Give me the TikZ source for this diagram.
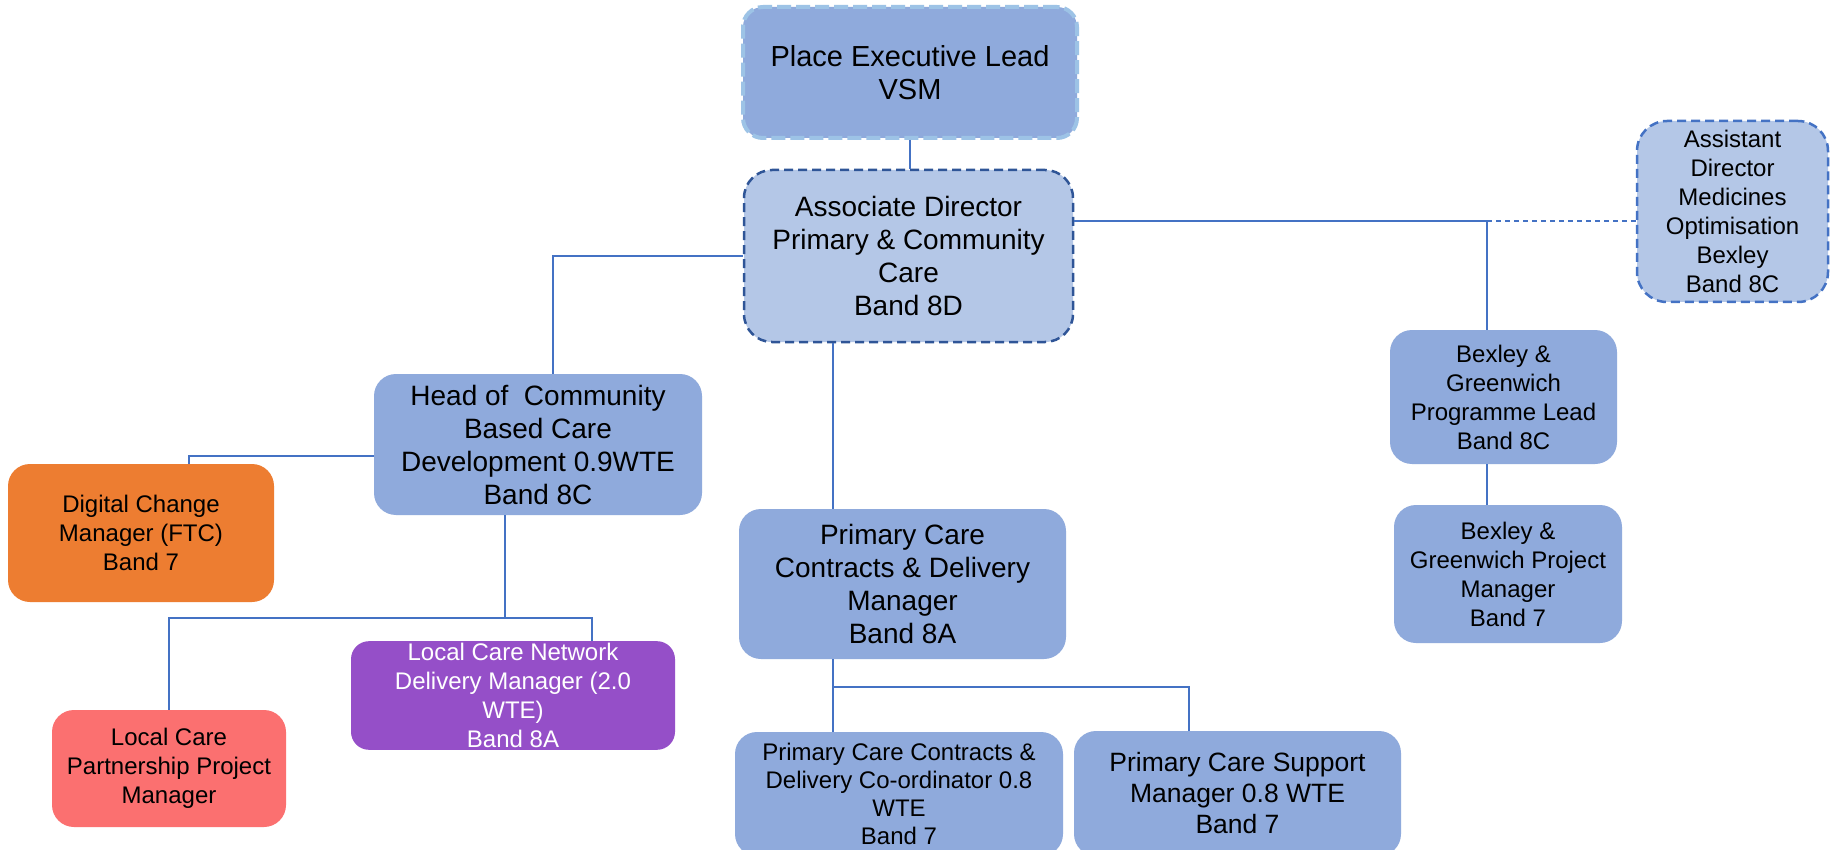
\documentclass[tikz,border=0pt]{standalone}
\usepackage{fontspec}
\setmainfont{Liberation Sans}
\definecolor{boxblue}{HTML}{8FAADC}
\definecolor{lightfill}{HTML}{B4C7E7}
\definecolor{execborder}{HTML}{9DC3E6}
\definecolor{assocborder}{HTML}{2F5597}
\definecolor{assistborder}{HTML}{4472C4}
\definecolor{linecol}{HTML}{4472C4}
\definecolor{orangebox}{HTML}{ED7D31}
\definecolor{pinkbox}{HTML}{FB7070}
\definecolor{purplebox}{HTML}{954FC8}
\newcommand\szXL{\fontsize{29}{33.5}\selectfont}
\newcommand\szL{\fontsize{28}{33}\selectfont}
\newcommand\szM{\fontsize{26.5}{31}\selectfont}
\newcommand\szS{\fontsize{24}{29}\selectfont}
\newcommand\szT{\fontsize{24}{28}\selectfont}
\begin{document}
\begin{tikzpicture}[x=1pt,y=-1pt,
  box/.style={rectangle, rounded corners=22pt, fill=boxblue, align=center, inner sep=2pt, text=black},
  conn/.style={draw=linecol, line width=1.3pt}]
\clip (0,0) rectangle (1831,850);
\fill[white] (0,0) rectangle (1831,850);
% nodes
\node[box, minimum width=334pt, minimum height=131pt, rounded corners=20pt, draw=execborder, line width=4pt, dash pattern=on 14pt off 5pt, font=\szXL] (exec) at (910,72.5) {Place Executive Lead\\VSM};
\node[box, fill=lightfill, minimum width=329pt, minimum height=172pt, rounded corners=28pt, draw=assocborder, line width=2.5pt, dash pattern=on 9pt off 5pt, font=\szL] (assoc) at (908.5,256) {Associate Director\\Primary \& Community\\Care\\Band 8D};
\node[box, fill=lightfill, minimum width=191pt, minimum height=181pt, rounded corners=30pt, draw=assistborder, line width=2.5pt, dash pattern=on 9pt off 5pt, font=\szS] (assist) at (1732.5,211.5) {Assistant\\Director\\Medicines\\Optimisation\\Bexley\\Band 8C};
\node[box, minimum width=227pt, minimum height=134pt, font=\szS] (bgpl) at (1503.5,397) {Bexley \&\\Greenwich\\Programme Lead\\Band 8C};
\node[box, minimum width=228pt, minimum height=138pt, font=\szS] (bgpm) at (1508,574) {Bexley \&\\Greenwich Project\\Manager\\Band 7};
\node[box, minimum width=328pt, minimum height=141pt, font=\szL] (head) at (538,444.5) {Head of~ Community\\Based Care\\Development 0.9WTE\\Band 8C};
\node[box, fill=orangebox, minimum width=266pt, minimum height=138pt, font=\szS] (digital) at (141,533) {Digital Change\\Manager (FTC)\\Band 7};
\node[box, fill=pinkbox, minimum width=234pt, minimum height=117pt, font=\szS] (lcpp) at (169,768.5) {Local Care\\Partnership Project\\Manager};
\node[box, fill=purplebox, text=white, minimum width=324pt, minimum height=105pt, rounded corners=18pt, font=\szS] (lcn) at (513,695.5) {Local Care Network\\Delivery Manager (2.0\\WTE)\\Band 8A};
\node[box, minimum width=327pt, minimum height=150pt, font=\szL] (pcc) at (902.5,584) {Primary Care\\Contracts \& Delivery\\Manager\\Band 8A};
\node[box, minimum width=328pt, minimum height=124pt, font=\szT] (coord) at (899,794) {Primary Care Contracts \&\\Delivery Co-ordinator 0.8\\WTE\\Band 7};
\node[box, minimum width=327pt, minimum height=125pt, font=\szM] (support) at (1237.5,793.5) {Primary Care Support\\Manager 0.8 WTE\\Band 7};
% junctions
\coordinate (j1) at (1487,221);
\coordinate (hd) at (189,456);
\coordinate (hb) at (505,618);
\coordinate (lr) at (592,618);
\coordinate (pb) at (833,687);
\coordinate (pr) at (1189,687);
\coordinate (ad) at (553,256);
% connectors
\draw[conn] (exec.south) -- (exec.south |- assoc.north);
\draw[conn] (assoc.west) -- (ad) -- (ad |- head.north);
\draw[conn] (pb |- assoc.south) -- (pb |- pcc.north);
\draw[conn] (j1 -| assoc.east) -- (j1);
\draw[conn, dash pattern=on 5pt off 4pt] (j1) -- (j1 -| assist.west);
\draw[conn] (j1) -- (j1 |- bgpl.north);
\draw[conn] (j1 |- bgpl.south) -- (j1 |- bgpm.north);
\draw[conn] (hd -| head.west) -- (hd) -- (hd |- digital.north);
\draw[conn] (hb |- head.south) -- (hb);
\draw[conn] (lcpp.north) -- (lcpp.north |- lr) -- (lr) -- (lr |- lcn.north);
\draw[conn] (pb |- pcc.south) -- (pb |- coord.north);
\draw[conn] (pb) -- (pr) -- (pr |- support.north);
\end{tikzpicture}
\end{document}
